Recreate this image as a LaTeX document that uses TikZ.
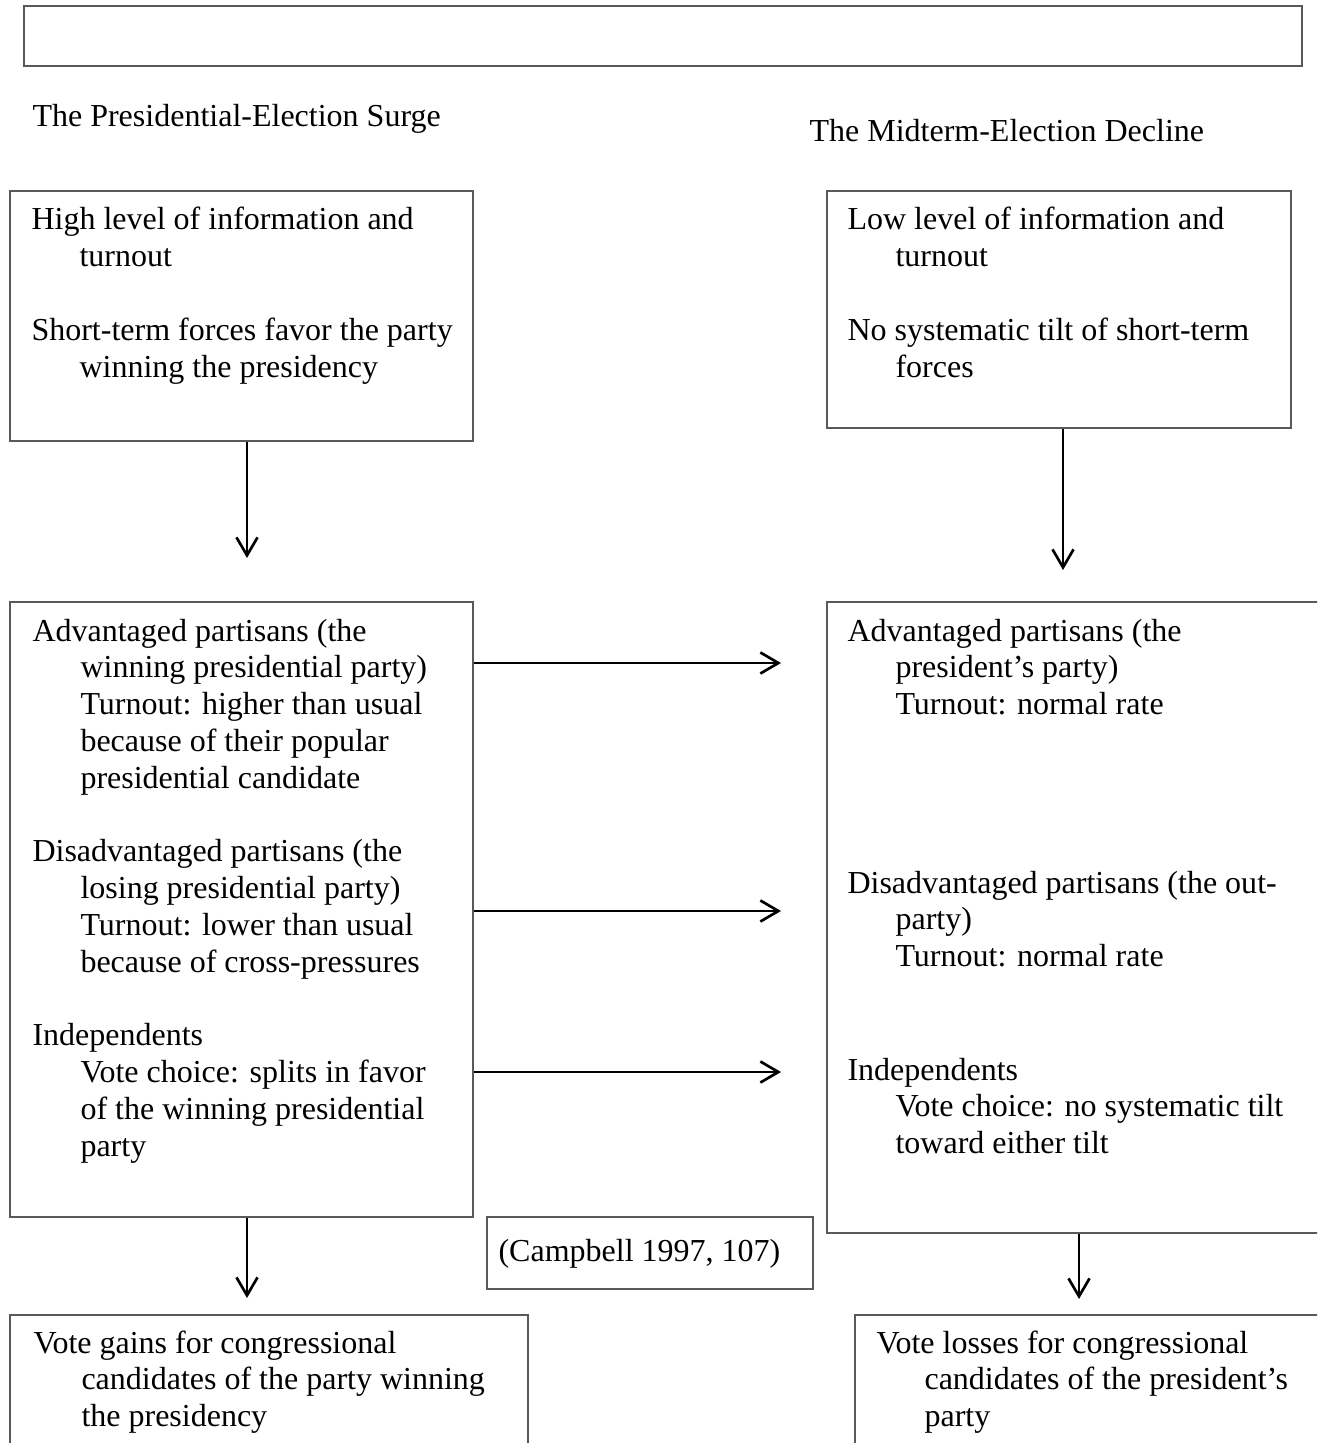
\documentclass[tikz,border=0pt]{standalone}
\usepackage{fontspec}
\setmainfont{Liberation Serif}
\usetikzlibrary{arrows.meta,fit}
\tikzset{
	box/.style={draw=black!65, line width=0.75pt, inner sep=0pt},
	txt/.style={anchor=base west, inner sep=0pt,
		font=\fontsize{12pt}{13.8pt}\selectfont},
	arr/.style={-{Straight Barb[length=6.75pt,width=7.9pt]}, line width=1pt, black},
}
\newcommand{\ind}{\hspace*{18pt}}
\newcommand{\txtlines}[1]{\begin{tabular}[t]{@{}l@{}}#1\end{tabular}}
\begin{document}
\begin{tikzpicture}[x=0.375pt,y=-0.375pt]
	\useasboundingbox (0,0) rectangle (1317,1443);
	\clip (0,0) rectangle (1317,1443);
	
	\node[box, fit={(24,6) (1302,66)}] (topbox) {};
	\node[txt] (surgetitle) at (32,127) {The Presidential-Election Surge};
	\node[txt] (declinetitle) at (809,142) {The Midterm-Election Decline};
	
	% surge column
	\node[box, fit={(10,191) (473,441)}] (surgecond) {};
	\node[txt] (surgecondtxt) at (31,230) {\txtlines{High level of information and\\
		\ind turnout\\[13.8pt]
		Short-term forces favor the party\\
		\ind winning the presidency}};
	\node[box, fit={(10,602) (473,1217)}] (surgevote) {};
	\node[txt] (surgevotetxt) at (32,641) {\txtlines{Advantaged partisans (the\\
		\ind winning presidential party)\\
		\ind Turnout: higher than usual\\
		\ind because of their popular\\
		\ind presidential candidate\\[13.8pt]
		Disadvantaged partisans (the\\
		\ind losing presidential party)\\
		\ind Turnout: lower than usual\\
		\ind because of cross-pressures\\[13.8pt]
		Independents\\
		\ind Vote choice: splits in favor\\
		\ind of the winning presidential\\
		\ind party}};
	\node[box, fit={(10,1315) (528,1460)}] (surgeresult) {};
	\node[txt] (surgeresulttxt) at (33,1353) {\txtlines{Vote gains for congressional\\
		\ind candidates of the party winning\\
		\ind the presidency}};
	
	% decline column
	\node[box, fit={(827,191) (1291,428)}] (declinecond) {};
	\node[txt] (declinecondtxt) at (847,230) {\txtlines{Low level of information and\\
		\ind turnout\\[13.8pt]
		No systematic tilt of short-term\\
		\ind forces}};
	\node[box, fit={(827,602) (1330,1233)}] (declinevote) {};
	\node[txt] (declineadv) at (847,641) {\txtlines{Advantaged partisans (the\\
		\ind president’s party)\\
		\ind Turnout: normal rate}};
	\node[txt] (declinedis) at (847,893) {\txtlines{Disadvantaged partisans (the out-\\
		\ind party)\\
		\ind Turnout: normal rate}};
	\node[txt] (declineind) at (847,1080) {\txtlines{Independents\\
		\ind Vote choice: no systematic tilt\\
		\ind toward either tilt}};
	\node[box, fit={(855,1315) (1330,1460)}] (declineresult) {};
	\node[txt] (declineresulttxt) at (876,1353) {\txtlines{Vote losses for congressional\\
		\ind candidates of the president’s\\
		\ind party}};
	
	\node[box, fit={(487,1217) (813,1289)}] (source) {};
	\node[txt] (sourcetxt) at (498,1261) {(Campbell 1997, 107)};
	
	% arrows
	\coordinate (tipsurgeA) at (247,558);
	\coordinate (tipsurgeB) at (247,1298);
	\coordinate (tipdeclineA) at (1063,570);
	\coordinate (tipdeclineB) at (1079,1299);
	\coordinate (tipadv) at (781,663);
	\coordinate (tipdis) at (781,911);
	\coordinate (tipind) at (781,1072);
	\draw[arr] (surgecond.south -| tipsurgeA) -- (tipsurgeA);
	\draw[arr] (surgevote.south -| tipsurgeB) -- (tipsurgeB);
	\draw[arr] (declinecond.south -| tipdeclineA) -- (tipdeclineA);
	\draw[arr] (declinevote.south -| tipdeclineB) -- (tipdeclineB);
	\draw[arr] (surgevote.east |- tipadv) -- (tipadv);
	\draw[arr] (surgevote.east |- tipdis) -- (tipdis);
	\draw[arr] (surgevote.east |- tipind) -- (tipind);
\end{tikzpicture}
\end{document}
